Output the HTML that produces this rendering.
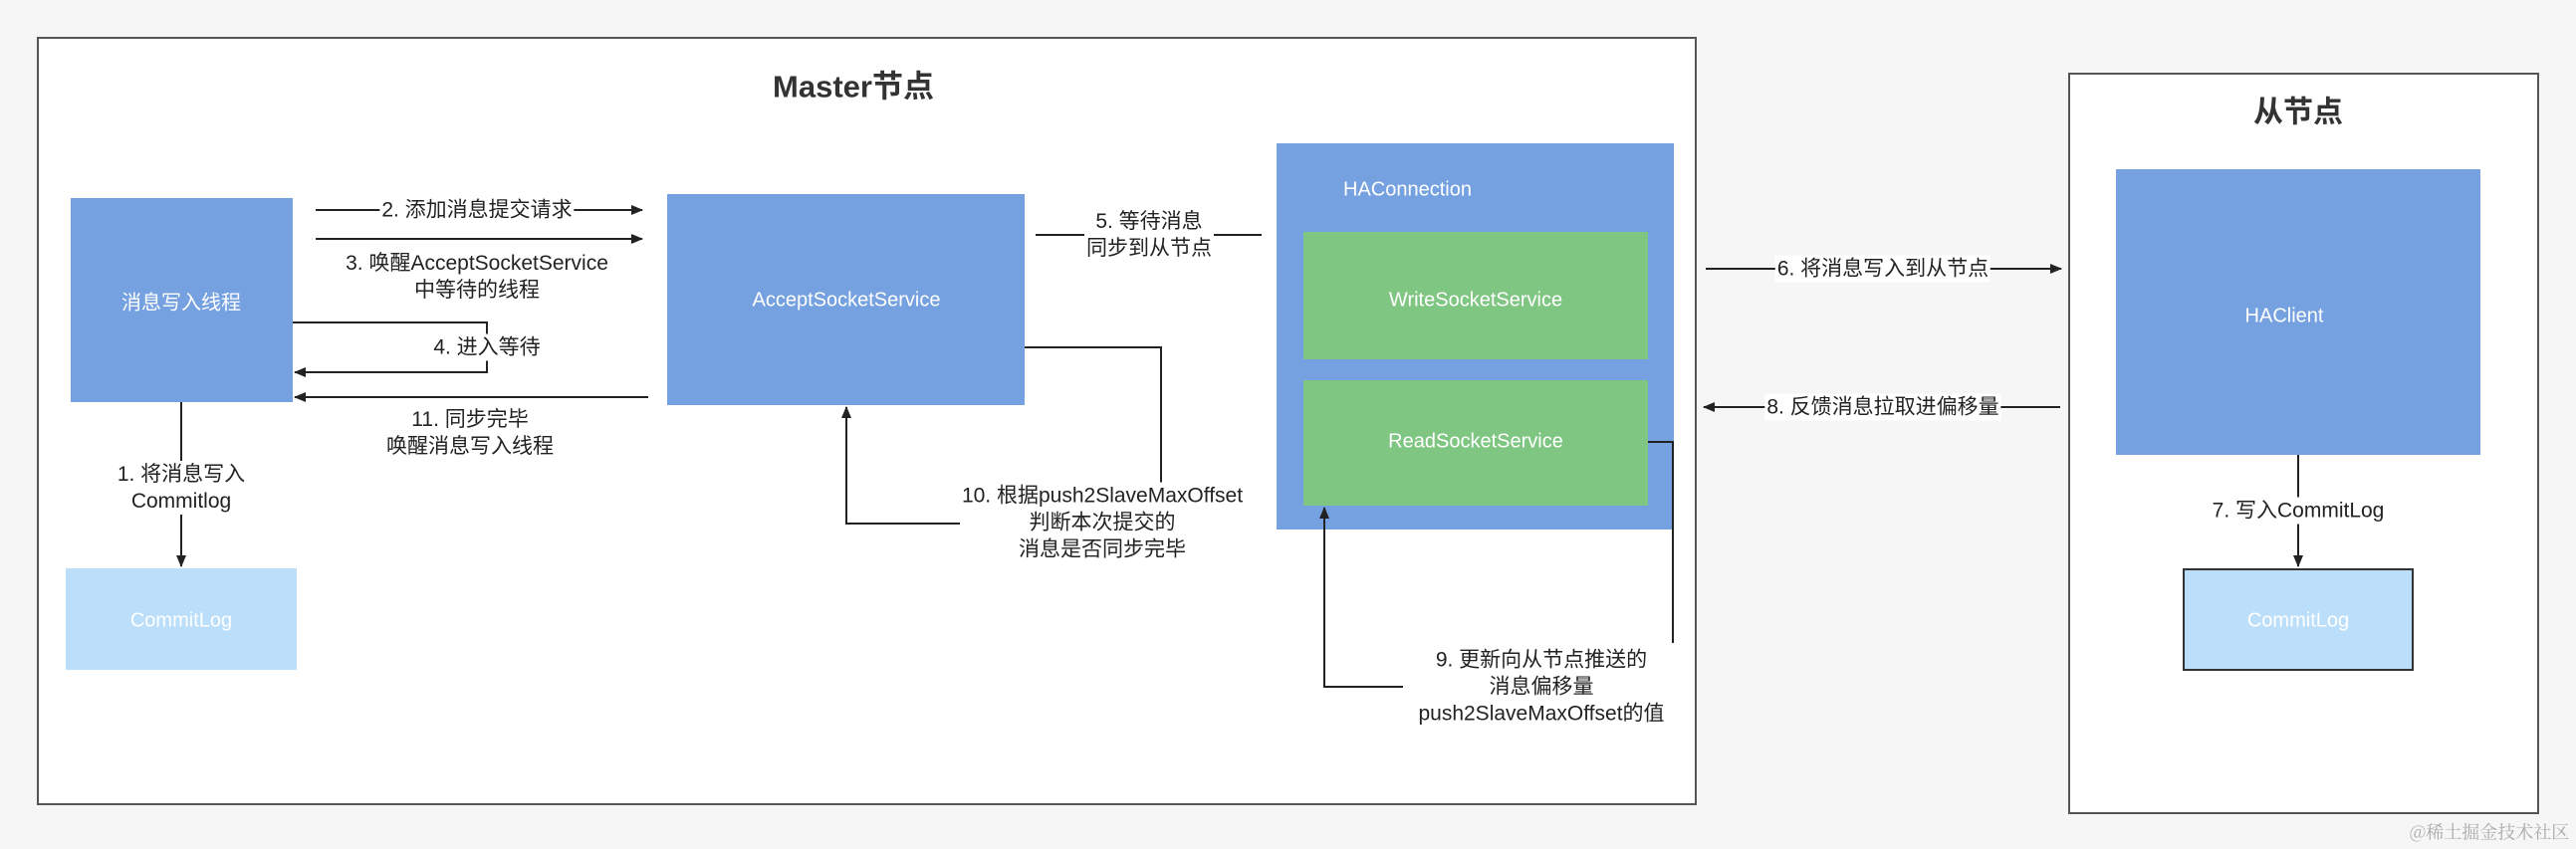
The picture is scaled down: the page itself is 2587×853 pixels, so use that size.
<!DOCTYPE html>
<html><head><meta charset="utf-8"><style>
body{margin:0;width:2587px;height:853px;background:#f6f6f6;position:relative;overflow:hidden;font-family:"Liberation Sans","Noto Sans CJK SC",sans-serif;}
.a{position:absolute}
.box{position:absolute;box-sizing:border-box}
.lbl{position:absolute;transform:translate(-50%,-50%);font-size:21px;line-height:27px;color:#222;text-align:center;white-space:nowrap;background:#fff;padding:0 2px}
.wt{position:absolute;transform:translate(-50%,-50%);font-size:20px;color:#fff;white-space:nowrap}
</style></head><body>
<div class="box" style="left:37px;top:37px;width:1667px;height:772px;background:#fff;border:2px solid #555"></div>
<div class="box" style="left:2077px;top:73px;width:473px;height:745px;background:#fff;border:2px solid #555"></div>
<div class="lbl" style="left:857px;top:87px;font-size:31px;font-weight:bold;color:#333">Master节点</div>
<div class="lbl" style="left:2308px;top:113px;font-size:30px;font-weight:bold;color:#333">从节点</div>

<div class="box" style="left:71px;top:199px;width:223px;height:205px;background:#75a1e0"></div>
<div class="wt" style="left:182px;top:302px">消息写入线程</div>
<div class="box" style="left:66px;top:571px;width:232px;height:102px;background:#bbdffb"></div>
<div class="wt" style="left:182px;top:624px">CommitLog</div>
<div class="box" style="left:670px;top:195px;width:359px;height:212px;background:#75a1e0"></div>
<div class="wt" style="left:850px;top:302px">AcceptSocketService</div>
<div class="box" style="left:1282px;top:144px;width:399px;height:388px;background:#75a1e0"></div>
<div class="wt" style="left:1349px;top:191px;transform:translate(0,-50%)">HAConnection</div>
<div class="box" style="left:1309px;top:233px;width:346px;height:128px;background:#80c683"></div>
<div class="wt" style="left:1482px;top:302px">WriteSocketService</div>
<div class="box" style="left:1309px;top:382px;width:346px;height:126px;background:#80c683"></div>
<div class="wt" style="left:1482px;top:444px">ReadSocketService</div>
<div class="box" style="left:2125px;top:170px;width:366px;height:287px;background:#75a1e0"></div>
<div class="wt" style="left:2294px;top:318px">HAClient</div>
<div class="box" style="left:2192px;top:571px;width:232px;height:103px;background:#bbdffb;border:2px solid #333"></div>
<div class="wt" style="left:2308px;top:624px">CommitLog</div>

<svg class="a" style="left:0;top:0" width="2587" height="853">
<defs><marker id="m" markerWidth="12" markerHeight="10" refX="11" refY="5" orient="auto" markerUnits="userSpaceOnUse"><path d="M0,0L12,5L0,10z" fill="#222"/></marker></defs>
<g stroke="#222" stroke-width="2" fill="none">
<path d="M317 211H645" marker-end="url(#m)"/>
<path d="M317 240H645" marker-end="url(#m)"/>
<path d="M294 324H489V374H296" marker-end="url(#m)"/>
<path d="M651 399H296" marker-end="url(#m)"/>
<path d="M182 404V569" marker-end="url(#m)"/>
<path d="M1029 349H1166V490"/>
<path d="M1045 526H850V409" marker-end="url(#m)"/>
<path d="M1040 236H1267"/>
<path d="M1655 444H1680V646"/>
<path d="M1409 690H1330V510" marker-end="url(#m)"/>
<path d="M1713 270H2070" marker-end="url(#m)"/>
<path d="M2069 409H1711" marker-end="url(#m)"/>
<path d="M2308 457V569" marker-end="url(#m)"/>
</g></svg>

<div class="lbl" style="left:479px;top:211px">2. 添加消息提交请求</div>
<div class="lbl" style="left:479px;top:278px;background:none">3. 唤醒AcceptSocketService<br>中等待的线程</div>
<div class="lbl" style="left:489px;top:349px">4. 进入等待</div>
<div class="lbl" style="left:472px;top:435px;background:none">11. 同步完毕<br>唤醒消息写入线程</div>
<div class="lbl" style="left:182px;top:490px">1. 将消息写入<br>Commitlog</div>
<div class="lbl" style="left:1107px;top:525px">10. 根据push2SlaveMaxOffset<br>判断本次提交的<br>消息是否同步完毕</div>
<div class="lbl" style="left:1154px;top:236px">5. 等待消息<br>同步到从节点</div>
<div class="lbl" style="left:1548px;top:690px">9. 更新向从节点推送的<br>消息偏移量<br>push2SlaveMaxOffset的值</div>
<div class="lbl" style="left:1891px;top:270px">6. 将消息写入到从节点</div>
<div class="lbl" style="left:1891px;top:409px">8. 反馈消息拉取进偏移量</div>
<div class="lbl" style="left:2308px;top:513px">7. 写入CommitLog</div>
<div class="lbl" style="left:2500px;top:836px;background:none;color:#aaa;font-size:18px;font-family:'Noto Serif CJK SC',serif">@稀土掘金技术社区</div>
</body></html>
